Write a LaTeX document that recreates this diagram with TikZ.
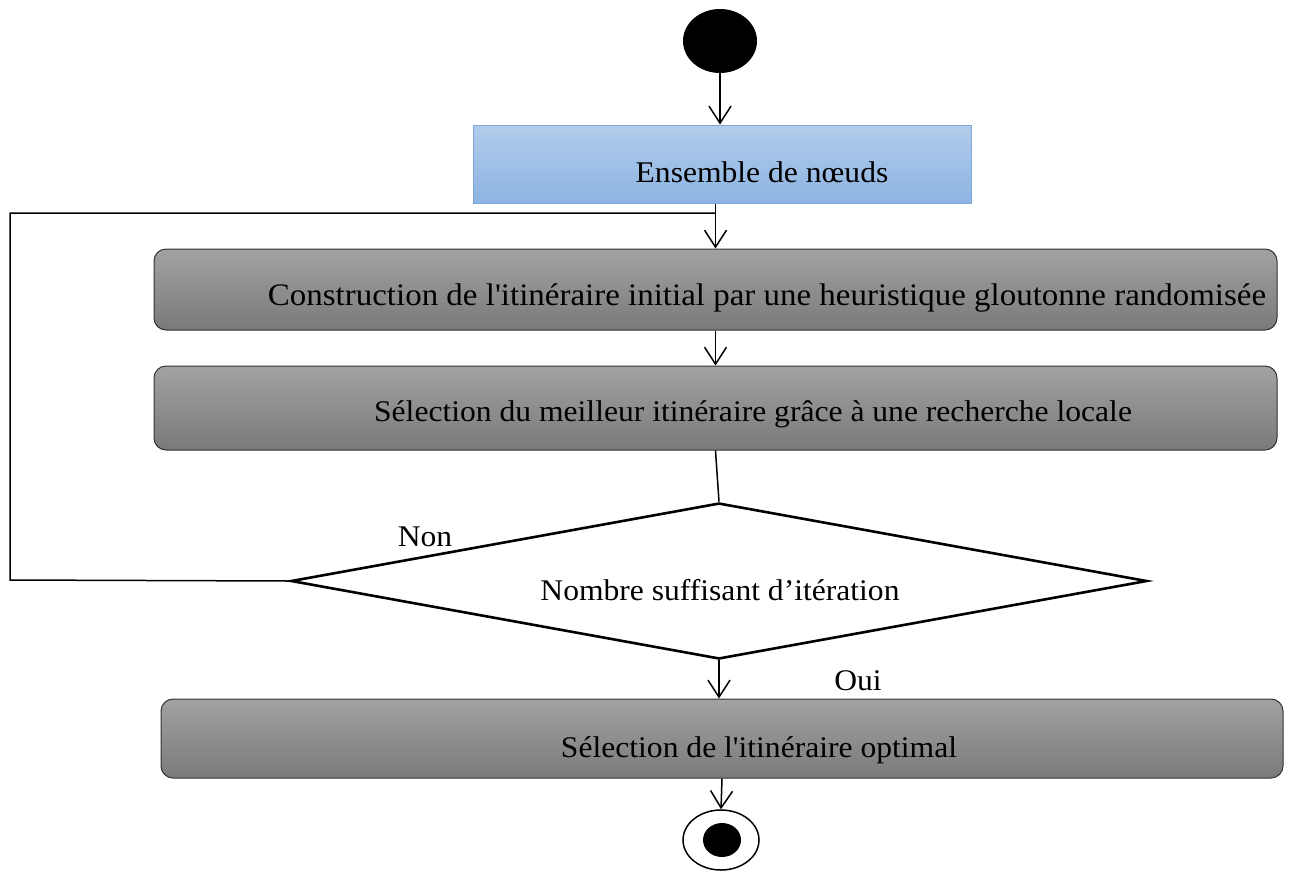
\documentclass[tikz,border=0pt]{standalone}
\usepackage{fontspec}
\usepackage{graphicx}
\setmainfont{Liberation Serif}
\usetikzlibrary{shapes.geometric,arrows.meta}
\definecolor{blueTop}{HTML}{B2CCEB}
\definecolor{blueBot}{HTML}{8DB4E2}
\definecolor{blueEdge}{HTML}{7FA7D8}
\definecolor{grayTop}{HTML}{A2A2A2}
\definecolor{grayBot}{HTML}{7A7A7A}
\newcommand{\lbl}[1]{\scalebox{1.053}[1]{#1}}
\begin{document}
\begin{tikzpicture}[x=1pt,y=-1pt,
  every node/.style={font=\fontsize{30}{34}\selectfont},
  arr/.style={line width=1.5pt,-{Straight Barb[length=17pt,width=22pt,line width=1.5pt]}},
  link/.style={line width=1.5pt},
  actbox/.style={draw=black!80,line width=1pt,rounded corners=12pt,
    top color=grayTop,bottom color=grayBot,inner sep=0pt},
  inbox/.style={draw=blueEdge,line width=1pt,top color=blueTop,bottom color=blueBot,inner sep=0pt},
  txt/.style={inner sep=0pt,anchor=center}]
\useasboundingbox (0,0) rectangle (1289,871);
\fill[white] (0,0) rectangle (1289,871);

% start and end states
\node[ellipse,fill=black,minimum width=74pt,minimum height=64pt,inner sep=0pt] (start) at (720,41) {};
\node[ellipse,draw=black,line width=1.5pt,fill=white,minimum width=76pt,minimum height=60pt,inner sep=0pt] (stop) at (721,840) {};
\node[ellipse,fill=black,minimum width=38pt,minimum height=34pt,inner sep=0pt] (stopdot) at (722,840) {};

% activity boxes
\node[inbox,minimum width=498pt,minimum height=78pt] (nodes) at (722,164) {};
\node[actbox,minimum width=1123pt,minimum height=81pt] (cons) at (715.5,289.5) {};
\node[actbox,minimum width=1123pt,minimum height=84pt] (sel) at (715.5,408) {};
\node[actbox,minimum width=1122pt,minimum height=79pt] (final) at (722,738.5) {};

% decision
\node[diamond,draw=black,line width=2.6pt,fill=white,minimum width=856pt,minimum height=156pt,
  aspect=5.5,inner sep=0pt] (dec) at (719,581) {};

% texts
\node[txt] (tnodes) at (762,172) {\lbl{Ensemble de nœuds}};
\node[txt,font=\fontsize{31.3}{35}\selectfont] (tcons) at (767,298) {\lbl{Construction de l\textquotesingle itinéraire initial par une heuristique gloutonne randomisée}};
\node[txt] (tsel) at (753,414) {\lbl{Sélection du meilleur itinéraire grâce à une recherche locale}};
\node[txt] (tdec) at (720,590) {\lbl{Nombre suffisant d’itération}};
\node[txt] (tfinal) at (759,750) {\lbl{Sélection de l\textquotesingle itinéraire optimal}};
\node[txt] (tnon) at (425,537) {\lbl{Non}};
\node[txt] (toui) at (858,681) {\lbl{Oui}};

% flow
\draw[arr] (start.south) -- (nodes.north -| start.south);
\draw[arr] (nodes.south -| cons.north) -- (cons.north);
\draw[arr] (cons.south) -- (sel.north);
\draw[link] (sel.south) -- (dec.north);
\draw[arr] (dec.south) -- (final.north -| dec.south);
\draw[arr] (final.south) -- (stop.north);

% loop back on "Non"
\coordinate (loopA) at (10,580);
\coordinate (loopB) at (10,213);
\draw[link] (dec.west) -- (loopA) -- (loopB) -- (loopB -| cons.north);
\end{tikzpicture}
\end{document}
